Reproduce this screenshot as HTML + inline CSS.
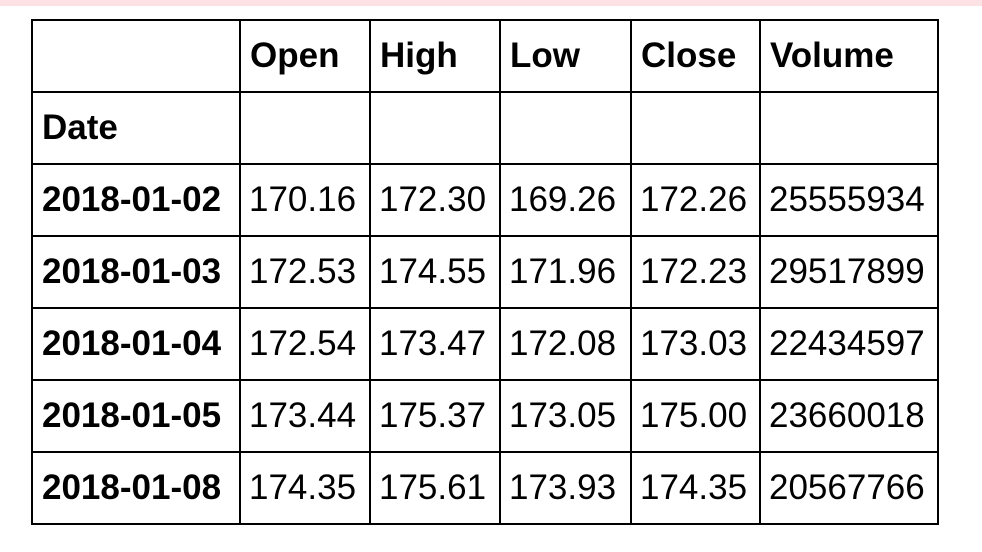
<!DOCTYPE html>
<html><head><meta charset="utf-8"><style>
body{margin:0;width:982px;height:552px;background:#fff;position:relative;overflow:hidden;font-family:"Liberation Sans",sans-serif;}
#strip{position:absolute;left:0;top:0;width:982px;height:6px;background:#fde2e5;}
table{position:absolute;left:31px;top:19px;border-collapse:collapse;table-layout:fixed;}
td,th{border:2px solid #000;height:70px;padding:0 0 0 9px;text-align:left;vertical-align:middle;color:#000;white-space:nowrap;overflow:hidden;}
th{font-weight:bold;font-size:35px;}
td{font-weight:normal;padding-left:8px;font-size:35px;}
</style></head><body>
<div id="strip"></div>
<table>
<colgroup><col style="width:208px"><col style="width:130px"><col style="width:130px"><col style="width:131px"><col style="width:129px"><col style="width:178px"></colgroup>
<tr><th></th><th>Open</th><th>High</th><th>Low</th><th>Close</th><th>Volume</th></tr>
<tr><th>Date</th><th></th><th></th><th></th><th></th><th></th></tr>
<tr><th>2018-01-02</th><td>170.16</td><td>172.30</td><td>169.26</td><td>172.26</td><td>25555934</td></tr>
<tr><th>2018-01-03</th><td>172.53</td><td>174.55</td><td>171.96</td><td>172.23</td><td>29517899</td></tr>
<tr><th>2018-01-04</th><td>172.54</td><td>173.47</td><td>172.08</td><td>173.03</td><td>22434597</td></tr>
<tr><th>2018-01-05</th><td>173.44</td><td>175.37</td><td>173.05</td><td>175.00</td><td>23660018</td></tr>
<tr><th>2018-01-08</th><td>174.35</td><td>175.61</td><td>173.93</td><td>174.35</td><td>20567766</td></tr>
</table>
</body></html>
